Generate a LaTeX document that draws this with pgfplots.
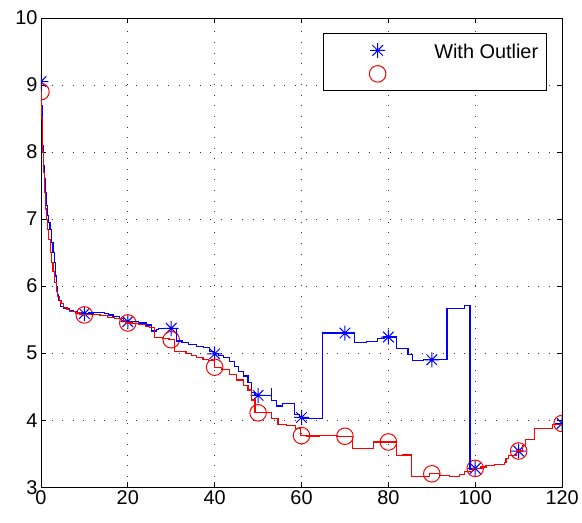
\documentclass[border=0pt]{standalone}
\usepackage{fontspec}
\setmainfont{Liberation Sans}
\usepackage{pgfplots}
\pgfplotsset{compat=1.18}
\pgfdeclareplotmark{mstar}{%
  \pgfpathmoveto{\pgfqpoint{-\pgfplotmarksize}{0pt}}\pgfpathlineto{\pgfqpoint{\pgfplotmarksize}{0pt}}%
  \pgfpathmoveto{\pgfqpoint{0pt}{-\pgfplotmarksize}}\pgfpathlineto{\pgfqpoint{0pt}{\pgfplotmarksize}}%
  \pgfpathmoveto{\pgfqpoint{-0.707\pgfplotmarksize}{-0.707\pgfplotmarksize}}\pgfpathlineto{\pgfqpoint{0.707\pgfplotmarksize}{0.707\pgfplotmarksize}}%
  \pgfpathmoveto{\pgfqpoint{-0.707\pgfplotmarksize}{0.707\pgfplotmarksize}}\pgfpathlineto{\pgfqpoint{0.707\pgfplotmarksize}{-0.707\pgfplotmarksize}}%
  \pgfusepathqstroke}
\pgfplotsset{mylegimg/.style={legend image code/.code={\path (0bp,0bp) (73bp,0bp); \draw[##1] plot coordinates {(51bp,0bp)};}}}
\begin{document}
\begin{tikzpicture}[font=\fontsize{20}{24}\selectfont]
\begin{axis}[name=ax, scale only axis, width=522bp, height=470bp,
  xmin=0, xmax=120, ymin=3, ymax=10,
  xtick={0,20,...,120}, ytick={3,4,...,10},
  tick align=inside, major tick length=5bp,
  clip marker paths=true,
  grid=major, grid style={black!80, line width=0.7bp, dash pattern=on 0.8bp off 9.8bp},
  axis line style={line width=0.8bp}, tick style={black, line width=0.8bp},
  /pgf/number format/assume math mode=true,
  legend style={draw=black, line width=0.9bp, fill=white, at={(1,1)}, anchor=north east,
    xshift=-15.5bp, yshift=-15.3bp, inner xsep=3bp, inner ysep=5bp, nodes={inner sep=2bp}},
  legend cell align=left,
]
\addplot[only marks, blue, mark=mstar, mark size=7.5bp, line width=1bp, mylegimg]
  coordinates {(0,9.05) (10,5.59) (20,5.47) (30,5.37) (40,4.99) (50,4.37) (60,4.04) (70,5.30) (80,5.24) (90,4.90) (100,3.28) (110,3.54) (120,3.95)};
\addlegendentry{\rule[-3.6bp]{0pt}{21.6bp}\makebox[139.3bp][r]{With Outlier\hspace*{3bp}}}
\addplot[only marks, red, mark=o, mark size=8.3bp, line width=1bp, mylegimg]
  coordinates {(0,8.90) (10,5.57) (20,5.45) (30,5.20) (40,4.79) (50,4.11) (60,3.77) (70,3.76) (80,3.675) (90,3.20) (100,3.28) (110,3.54) (120,3.95)};
\addlegendentry{\rule[-3.6bp]{0pt}{21.6bp}}
\addplot[const plot, blue, line width=1.2bp, forget plot] coordinates {
 (0,9.05) (0.2,8.7) (0.4,8.1) (0.6,7.8) (0.8,7.6) (1.0,7.4) (1.2,7.2) (1.5,7.05) (1.8,6.95) (2.1,6.85)
 (2.5,6.65) (2.8,6.5) (3.1,6.35) (3.3,6.15) (3.5,6.0) (3.8,5.88) (4.1,5.78) (4.5,5.70) (5.2,5.66) (6.5,5.64)
 (7.5,5.62) (8.5,5.60) (9.5,5.59) (11,5.60) (12,5.61) (14.7,5.59) (15.5,5.57) (16.6,5.55) (18,5.52) (19,5.49)
 (19.7,5.47) (22.5,5.45) (24.3,5.42) (25.4,5.33) (26.6,5.35) (27,5.37) (31.3,5.18) (32.5,5.16) (33.9,5.13)
 (35.9,5.10) (37.5,5.08) (38.9,5.03) (40.0,4.99) (40.8,4.97) (42,4.93) (43.4,4.88) (44.5,4.80) (45.5,4.73)
 (46.6,4.66) (47.7,4.56) (48.5,4.41) (49.3,4.37) (53,4.47) (53.05,4.29) (54.2,4.21) (55.7,4.25) (58.4,4.09)
 (59.5,4.04) (60.5,4.02) (63,4.03) (64.9,5.30) (72.2,5.16) (74.9,5.17) (77.5,5.22) (79,5.24) (81.8,5.07)
 (84.5,4.98) (85.5,4.89) (88,4.90) (93.5,5.66) (95.9,5.67) (97.5,5.71) (98.8,3.27) (99.3,3.28) (101.3,3.30)
 (102.5,3.32) (104.5,3.34) (106.7,3.37) (107.1,3.43) (107.7,3.47) (109.5,3.54) (110.9,3.62) (111.6,3.71)
 (113.6,3.87) (117.8,3.93) (120,3.95)};
\addplot[const plot, red, line width=1.2bp, forget plot] coordinates {
 (0,8.90) (0.2,8.5) (0.4,8.0) (0.6,7.7) (0.8,7.4) (1.0,7.15) (1.2,6.99) (1.5,6.85) (1.8,6.7) (2.2,6.5)
 (2.5,6.35) (2.8,6.22) (3.2,6.05) (3.5,5.92) (3.8,5.85) (4.2,5.78) (4.6,5.74) (5.2,5.68) (6.0,5.65) (6.6,5.62)
 (8,5.60) (9,5.58) (11,5.58) (12.5,5.58) (13.6,5.56) (15.3,5.53) (17,5.52) (18.5,5.49) (19.5,5.45) (21,5.44)
 (22.5,5.43) (24,5.40) (25,5.38) (26.2,5.23) (28.1,5.22) (29.5,5.20) (30.8,5.03) (32.3,5.02) (33.4,5.00)
 (34.6,4.96) (35.8,4.93) (37.3,4.91) (38.5,4.89) (40,4.79) (41.5,4.76) (43.4,4.68) (45,4.60) (46.6,4.52)
 (47.7,4.45) (48.4,4.30) (49.3,4.12) (53,4.03) (54.6,3.94) (56.5,3.92) (58.6,3.87) (59.8,3.77) (61.1,3.765)
 (64.1,3.77) (66,3.775) (68.3,3.76) (71.8,3.58) (76.6,3.675) (81.8,3.47) (83.3,3.48) (85.4,3.16) (88.2,3.16)
 (89.5,3.21) (91.7,3.17) (94,3.16) (96.3,3.19) (97.5,3.24) (99.3,3.28) (101.3,3.30) (102.5,3.32) (104.5,3.34)
 (106.7,3.37) (107.1,3.43) (107.7,3.47) (109.5,3.54) (110.9,3.62) (111.6,3.71) (113.6,3.87) (117.8,3.93) (120,3.95)};
\end{axis}
\path ([xshift=-41bp,yshift=-35bp]ax.south west) rectangle ([xshift=19bp,yshift=18bp]ax.north east);
\end{tikzpicture}
\end{document}
